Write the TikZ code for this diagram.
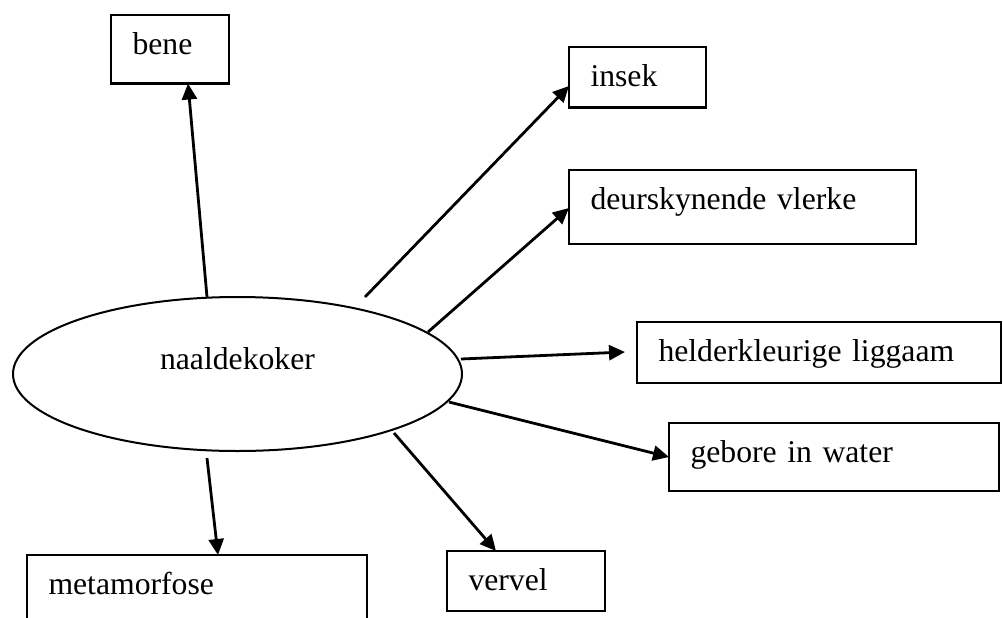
\documentclass[tikz,border=0pt]{standalone}
\usepackage{fontspec}
\setmainfont{Liberation Serif}
\usetikzlibrary{arrows.meta,shapes.geometric,calc}
\begin{document}
\begin{tikzpicture}[x=0.5pt,y=-0.5pt,
  txt/.style={font=\fontsize{15.85}{19}\selectfont},
  box/.style={txt,draw,line width=1.2pt,rectangle,anchor=north west,align=left,
    inner xsep=10.75pt,inner ysep=0pt,outer sep=0pt,text height=19.75pt},
  conn/.style={line width=1.4pt,-{Triangle[length=8pt,width=7.5pt]}},
]
\useasboundingbox (0,0) rectangle (1003,617);
\clip (0,0) rectangle (1003,617);

\node[box,text width=37.5pt,text depth=14.5pt] (bene) at (111,15) {bene};
\node[box,text width=47pt,text depth=10.5pt] (insek) at (569,47) {insek};
\node[box,text width=152pt,text depth=17.25pt] (deur) at (569,170) {deurskynende vlerke};
\node[box,text width=160.5pt,text depth=10.75pt] (held) at (637,322) {helderkleurige liggaam};
\node[box,text width=143.5pt,text depth=14.25pt] (geb) at (669,423) {gebore in water};
\node[box,text width=57.5pt,text depth=10.25pt] (verv) at (447,551) {vervel};
\node[box,text width=148.5pt,text depth=23pt] (meta) at (27,555) {metamorfose};

\node[txt,ellipse,draw,line width=1pt,minimum width=224.5pt,minimum height=77pt,
  inner sep=0pt,outer sep=0pt,text height=8pt,text depth=13pt] (nk) at (237.5,374) {naaldekoker};

\draw[conn] ($(nk)+(-30.5,-77)$) -- ($(bene.south west)+(77,0)$);
\draw[conn] ($(nk)+(127.5,-77)$) -- ($(insek.north west)+(0,39)$);
\draw[conn] ($(nk)+(190.5,-42)$) -- ($(deur.north west)+(0,38)$);
\draw[conn] ($(nk)+(223.5,-15)$) -- ($(held.north west)+(-12,30)$);
\draw[conn] ($(nk)+(211.5,28)$) -- ($(geb.north west)+(0,34)$);
\draw[conn] ($(nk)+(156.5,59)$) -- ($(verv.north west)+(49,0)$);
\draw[conn] ($(nk)+(-30.5,84)$) -- ($(meta.north west)+(191,0)$);
\end{tikzpicture}
\end{document}
